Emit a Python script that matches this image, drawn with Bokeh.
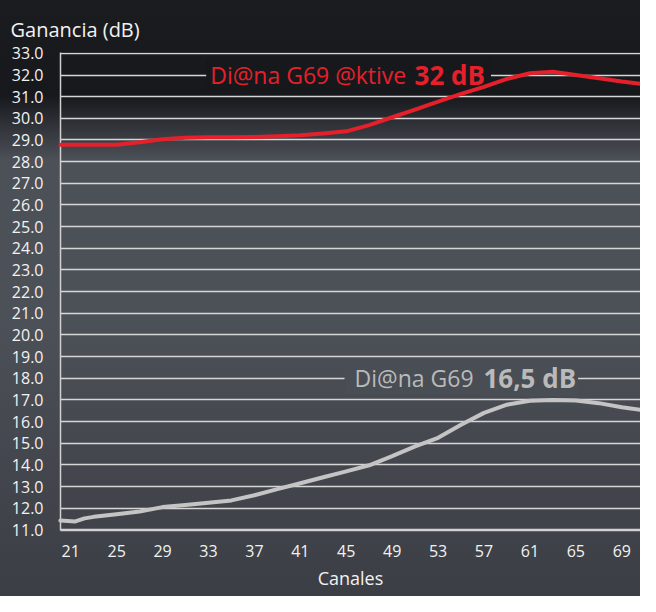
from bokeh.plotting import figure
from bokeh.models import FixedTicker, PrintfTickFormatter, Label, Range1d
from bokeh.embed import file_html
from bokeh.resources import INLINE

# ---- data ----
channels_active = [20.1, 21, 23, 25, 27, 29, 31, 33, 35, 37, 39, 41, 43, 45, 47, 49, 51, 53,
                   55, 57, 59, 61, 63, 65, 67, 69, 70.6]
gain_active = [28.78, 28.78, 28.78, 28.78, 28.9, 29.03, 29.1, 29.13, 29.13, 29.14, 29.17, 29.22,
               29.3, 29.4, 29.69, 30.05, 30.4, 30.77, 31.13, 31.45, 31.82, 32.08, 32.15, 32.0,
               31.85, 31.7, 31.6]

channels_passive = [20.1, 21.4, 22.2, 23, 25, 27, 29, 31, 33, 35, 37, 39, 41, 43, 45, 47, 49, 51,
                    53, 55, 57, 59, 61, 63, 65, 67, 69, 70.6]
gain_passive = [11.43, 11.39, 11.53, 11.6, 11.72, 11.85, 12.05, 12.15, 12.25, 12.36, 12.6, 12.88,
                13.15, 13.43, 13.7, 13.98, 14.4, 14.85, 15.25, 15.85, 16.4, 16.78, 16.96, 17.0,
                16.97, 16.85, 16.66, 16.54]

x_ticks = [21, 25, 29, 33, 37, 41, 45, 49, 53, 57, 61, 65, 69]
y_ticks = list(range(11, 34))

label_active_name = "Di@na G69 @ktive"
label_active_gain = "32 dB"
label_passive_name = "Di@na G69"
label_passive_gain = "16,5 dB"
x_title = "Canales"
y_title = "Ganancia (dB)"

FONT = "Open Sans"
RED = "#e6202a"
GREY_LINE = "#c4c4c4"
GREY_TEXT = "#bababa"
TXT = "#f2f2f2"
BG_TOP = "#16181c"
BG_MID = "#4c5057"
BG_BOT = "#3b3e44"

p = figure(width=640, height=596, output_backend="svg", toolbar_location=None,
           x_range=Range1d(20.11, 70.63), y_range=Range1d(10.97, 33.04),
           min_border_left=60, min_border_right=0, min_border_top=52, min_border_bottom=66,
           background_fill_color=None, border_fill_color=None, outline_line_color=None,
           styles={"background": f"linear-gradient(to bottom, #1b1c1f 0px, {BG_TOP} 95px, "
                                 f"{BG_MID} 160px, {BG_MID} 320px, {BG_BOT} 596px)"})

p.title.text = y_title
p.title.text_color = TXT
p.title.text_font = FONT
p.title.text_font_size = "20px"
p.title.text_font_style = "normal"
p.title.align = "left"
p.title.offset = -50
p.title.standoff = 20

# axes
p.yaxis.ticker = FixedTicker(ticks=y_ticks)
p.yaxis.formatter = PrintfTickFormatter(format="%.1f")
p.xaxis.ticker = FixedTicker(ticks=x_ticks)
for ax in (p.xaxis, p.yaxis):
    ax.major_tick_line_color = None
    ax.minor_tick_line_color = None
    ax.axis_line_color = "#d0d0d0"
    ax.axis_line_width = 1.5
    ax.major_label_text_color = TXT
    ax.major_label_text_font = FONT
    ax.major_label_text_font_size = "16px"
p.yaxis.major_label_standoff = 11
p.xaxis.major_label_standoff = 8
p.xaxis.axis_label = x_title
p.xaxis.axis_label_text_font = FONT
p.xaxis.axis_label_text_font_size = "18px"
p.xaxis.axis_label_text_font_style = "normal"
p.xaxis.axis_label_text_color = TXT
p.xaxis.axis_label_standoff = 6

p.xgrid.grid_line_color = None
p.ygrid.ticker = FixedTicker(ticks=y_ticks)
p.ygrid.grid_line_color = "#d6d6d6"
p.ygrid.grid_line_width = 1.5

p.line(channels_passive, gain_passive, line_color=GREY_LINE, line_width=4,
       line_join="round", line_cap="round", level="overlay")
p.line(channels_active, gain_active, line_color=RED, line_width=4,
       line_join="round", line_cap="round", level="overlay")

reg = dict(text_font=FONT, text_baseline="middle", text_font_size="23px")
bold = dict(text_font=FONT, text_baseline="middle", text_font_size="26px",
            text_font_style="bold")
p.add_layout(Label(x=32.8, y=32, text=label_active_name, text_color=RED,
                   background_fill_color=BG_TOP,
                   padding=dict(left=4, right=14, top=0, bottom=0), **reg))
p.add_layout(Label(x=50.6, y=32, text=label_active_gain, text_color=RED,
                   background_fill_color=BG_TOP,
                   padding=dict(left=4, right=6, top=0, bottom=0), **bold))
p.add_layout(Label(x=44.85, y=18, text=label_passive_name, text_color=GREY_TEXT,
                   background_fill_color="#494d54",
                   padding=dict(left=10, right=14, top=0, bottom=0), **reg))
p.add_layout(Label(x=56.6, y=18, text=label_passive_gain, text_color=GREY_TEXT,
                   background_fill_color="#494d54",
                   padding=dict(left=4, right=2, top=0, bottom=0), **bold))

open("out.html", "w").write(file_html(p, INLINE))
